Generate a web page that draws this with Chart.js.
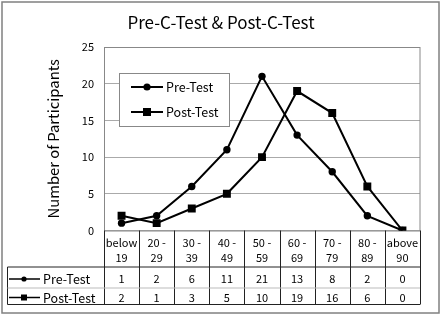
<!DOCTYPE html>
<html><head><meta charset="utf-8">
<script src="https://cdn.jsdelivr.net/npm/chart.js"></script>
<style>html,body{margin:0;padding:0;background:#fff}#wrap{width:442px;height:315px}</style>
</head><body><div id="wrap"><canvas id="c" width="442" height="315"></canvas></div>
<script>
const categories = [["below","19"],["20 -","29"],["30 -","39"],["40 -","49"],["50 -","59"],["60 -","69"],["70 -","79"],["80 -","89"],["above","90"]];
const preTest = [1, 2, 6, 11, 21, 13, 8, 2, 0];
const postTest = [2, 1, 3, 5, 10, 19, 16, 6, 0];
const seriesNames = ["Pre-Test", "Post-Test"];
const yTicks = [0, 5, 10, 15, 20, 25];
const titleText = "Pre-C-Test & Post-C-Test";
const yTitle = "Number of Participants";

const FONT = '"Noto Sans CJK JP", "Noto Sans", sans-serif';

function marker(ctx, style, x, y, r) {
  ctx.fillStyle = '#000';
  ctx.beginPath();
  if (style === 'circle') { ctx.arc(x, y, r, 0, Math.PI * 2); ctx.fill(); }
  else { ctx.fillRect(x - r, y - r, 2 * r, 2 * r); }
}

const decor = {
  id: 'decor',
  beforeDatasetsDraw(chart) {
    const {ctx, chartArea: a} = chart;
    ctx.save();
    ctx.strokeStyle = '#888';
    ctx.lineWidth = 1;
    ctx.strokeRect(a.left + 0.5, a.top + 0.5, a.right - a.left - 0.5, a.bottom - a.top);
    const lx = 119.5, ly = 73.5, lw = 110, lh = 53;
    ctx.fillStyle = '#fff';
    ctx.fillRect(lx, ly, lw, lh);
    ctx.strokeStyle = '#888';
    ctx.strokeRect(lx, ly, lw, lh);
    const styles = ['circle', 'rect'];
    const rows = [87, 112];
    ctx.font = '12.5px ' + FONT;
    ctx.textBaseline = 'middle';
    ctx.textAlign = 'left';
    for (let i = 0; i < 2; i++) {
      ctx.strokeStyle = '#000'; ctx.lineWidth = 2;
      ctx.beginPath(); ctx.moveTo(131, rows[i]); ctx.lineTo(163, rows[i]); ctx.stroke();
      marker(ctx, styles[i], 147, rows[i], i === 0 ? 3.6 : 4);
      ctx.fillStyle = '#000';
      ctx.fillText(chart.data.datasets[i].label, 166, rows[i] + 0.5);
    }
    ctx.restore();
  },
  afterDraw(chart) {
    const {ctx, chartArea: a, scales: {x}} = chart;
    ctx.save();
    ctx.strokeStyle = '#808080';
    ctx.lineWidth = 1.5;
    ctx.strokeRect(2, 2, 437, 311);
    ctx.fillStyle = '#000';
    ctx.font = '17px ' + FONT;
    ctx.textAlign = 'center';
    ctx.textBaseline = 'middle';
    ctx.fillText(titleText, 221, 23);
    ctx.save();
    ctx.translate(53, (a.top + a.bottom) / 2);
    ctx.rotate(-Math.PI / 2);
    ctx.font = '14.8px ' + FONT;
    ctx.fillText(yTitle, 0, 0);
    ctx.restore();
    const n = categories.length;
    const cw = (a.right - a.left) / n;
    const top = a.bottom, r1 = 267, r2 = 288, r3 = 304.5, left = 7.5;
    ctx.strokeStyle = '#222';
    ctx.lineWidth = 1;
    ctx.beginPath();
    for (let i = 0; i <= n; i++) {
      const xx = Math.round(a.left + i * cw) + 0.5;
      ctx.moveTo(xx, top); ctx.lineTo(xx, r3);
    }
    ctx.moveTo(left, r1); ctx.lineTo(a.right, r1);
    ctx.moveTo(left, r3); ctx.lineTo(a.right, r3);
    ctx.moveTo(left, r1); ctx.lineTo(left, r3);
    ctx.stroke();
    ctx.strokeStyle = '#bbb';
    ctx.beginPath(); ctx.moveTo(left, r2); ctx.lineTo(a.right, r2); ctx.stroke();
    ctx.fillStyle = '#000';
    ctx.font = '11px ' + FONT;
    ctx.textAlign = 'center';
    for (let i = 0; i < n; i++) {
      const cx = x.getPixelForValue(i);
      ctx.fillText(categories[i][0], cx, 242.5);
      ctx.fillText(categories[i][1], cx, 257.5);
    }
    const rowY = [279, 297.5];
    const styles = ['circle', 'rect'];
    chart.data.datasets.forEach((ds, k) => {
      ctx.font = '11px ' + FONT;
      ctx.textAlign = 'center';
      ds.data.forEach((v, i) => {
        ctx.fillStyle = '#000';
        ctx.fillText(String(v), x.getPixelForValue(i), rowY[k]);
      });
      ctx.strokeStyle = '#000'; ctx.lineWidth = 1.5;
      ctx.beginPath(); ctx.moveTo(9, rowY[k]); ctx.lineTo(40, rowY[k]); ctx.stroke();
      marker(ctx, styles[k], 24, rowY[k], k === 0 ? 2.6 : 3);
      ctx.fillStyle = '#000';
      ctx.font = '12.5px ' + FONT;
      ctx.textAlign = 'left';
      ctx.fillText(ds.label, 43, rowY[k] + 0.5);
    });
    ctx.restore();
  }
};

new Chart(document.getElementById('c'), {
  type: 'line',
  data: {
    labels: categories,
    datasets: [
      { label: seriesNames[0], data: preTest, borderColor: '#000', borderWidth: 2, pointStyle: 'circle', pointRadius: 3.7, pointBackgroundColor: '#000', pointBorderColor: '#000', pointBorderWidth: 0, tension: 0 },
      { label: seriesNames[1], data: postTest, borderColor: '#000', borderWidth: 2, pointStyle: 'rect', pointRadius: 5.6, pointBackgroundColor: '#000', pointBorderColor: '#000', pointBorderWidth: 0, tension: 0 }
    ]
  },
  options: {
    responsive: false,
    animation: false,
    devicePixelRatio: 1,
    layout: { padding: { left: 0, right: 22, top: 47, bottom: 11 } },
    plugins: { legend: { display: false }, title: { display: false }, tooltip: { enabled: false } },
    scales: {
      x: {
        offset: true,
        grid: { display: false },
        border: { display: false },
        ticks: { display: false },
        afterFit(s) { s.height = 73.5; }
      },
      y: {
        min: 0, max: 25,
        afterBuildTicks(s) { s.ticks = yTicks.map(v => ({ value: v })); },
        grid: { color: '#aaa', drawTicks: false },
        border: { color: '#222', width: 1 },
        ticks: { color: '#000', padding: 10, font: { size: 11, family: FONT } },
        afterFit(s) { s.width = 104; }
      }
    }
  },
  plugins: [decor]
});
</script></body></html>
